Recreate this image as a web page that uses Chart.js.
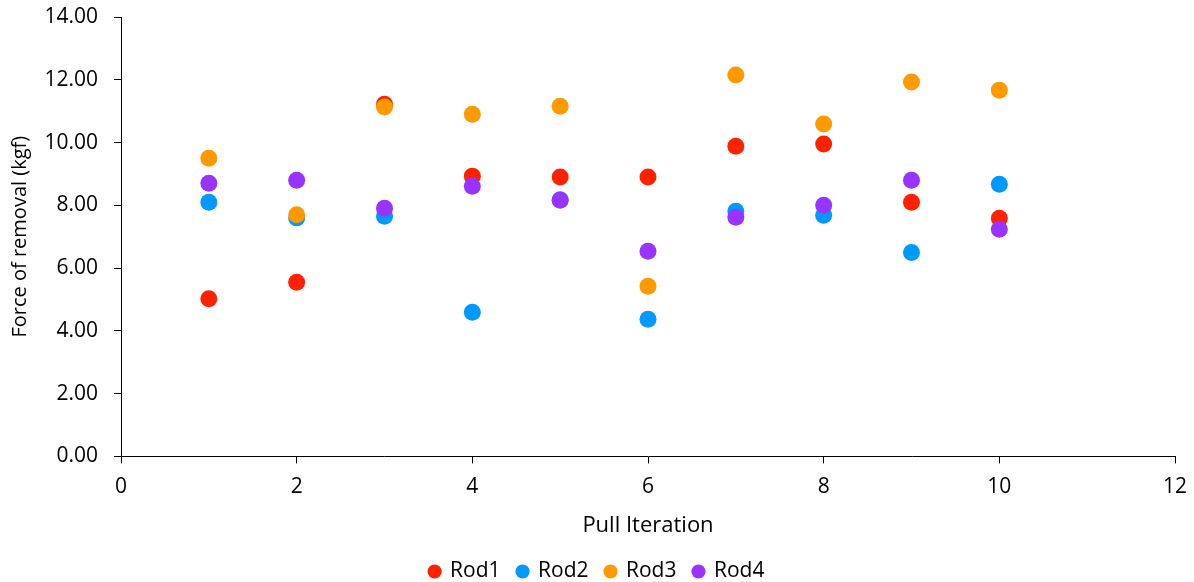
<!DOCTYPE html>
<html>
<head>
<meta charset="utf-8">
<script src="https://cdn.jsdelivr.net/npm/chart.js@4.4.0/dist/chart.umd.min.js"></script>
<style>
  html, body { margin: 0; padding: 0; background: #fff; }
  #wrap { width: 1194px; height: 582px; }
</style>
</head>
<body>
<div id="wrap"><canvas id="scatterChart" width="1194" height="582"></canvas></div>
<script>
// Pull iterations (x) and force readings per rod (kgf)
const iterations = [1, 2, 3, 4, 5, 6, 7, 8, 9, 10];
const rod1 = [5.02, 5.55, 11.22, 8.93, 8.90, 8.90, 9.88, 9.95, 8.10, 7.59];
const rod2 = [8.10, 7.60, 7.65, 4.59, 8.18, 4.37, 7.81, 7.68, 6.50, 8.67];
const rod3 = [9.50, 7.70, 11.13, 10.90, 11.16, 5.42, 12.15, 10.59, 11.93, 11.67];
const rod4 = [8.70, 8.80, 7.91, 8.61, 8.16, 6.54, 7.62, 8.00, 8.80, 7.24];

const seriesNames = ["Rod1", "Rod2", "Rod3", "Rod4"];
const seriesColors = ["#FF2200", "#0099FF", "#FF9900", "#9933FF"];
const seriesValues = [rod1, rod2, rod3, rod4];

const datasets = seriesNames.map((name, i) => ({
  label: name,
  data: iterations.map((x, j) => ({ x: x, y: seriesValues[i][j] })),
  backgroundColor: seriesColors[i],
  borderColor: seriesColors[i],
  pointRadius: 8.5,
  pointHoverRadius: 8.5,
  borderWidth: 0,
  order: seriesNames.length - i, // later series drawn on top
}));

const font = "'Open Sans', Lato, sans-serif";

const ctx = document.getElementById("scatterChart");
new Chart(ctx, {
  type: "scatter",
  data: { datasets: datasets },
  options: {
    responsive: false,
    animation: false,
    devicePixelRatio: 1,
    layout: { padding: { top: 0, right: 0, left: 0, bottom: -10 } },
    plugins: {
      tooltip: { enabled: false },
      legend: {
        position: "bottom",
        labels: {
          usePointStyle: true,
          pointStyle: "circle",
          boxWidth: 10,
          boxHeight: 10,
          padding: 17,
          color: "#000",
          font: { family: font, size: 21 },
          sort: (a, b) => a.datasetIndex - b.datasetIndex,
        },
      },
    },
    scales: {
      x: {
        type: "linear",
        min: 0,
        max: 12,
        ticks: { stepSize: 2, color: "#000", font: { family: font, size: 21 }, padding: 11 },
        grid: { drawOnChartArea: false, color: "#000", tickLength: 7 },
        border: { color: "#000", width: 1 },
        title: { display: true, text: "Pull Iteration", color: "#000", font: { family: font, size: 22 }, padding: { top: 2, bottom: 5 } },
        afterFit: (scale) => { scale.paddingRight = 19; },
      },
      y: {
        min: 0,
        max: 14,
        ticks: {
          stepSize: 2,
          color: "#000",
          font: { family: font, size: 21 },
          padding: 16,
          callback: (v) => v.toFixed(2),
        },
        grid: { drawOnChartArea: false, color: "#000", tickLength: 7 },
        border: { color: "#000", width: 1 },
        title: { display: true, text: "Force of removal (kgf)", color: "#000", font: { family: font, size: 20 }, padding: { top: 8, bottom: 10 } },
        afterFit: (scale) => {
          scale.width = 121;
          scale.paddingTop = 17;
        },
      },
    },
  },
});
</script>
</body>
</html>
